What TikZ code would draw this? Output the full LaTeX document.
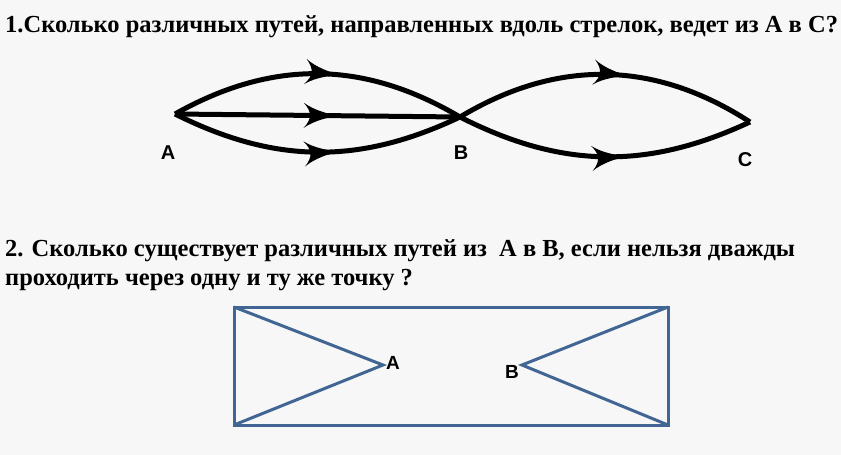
\documentclass[tikz,border=0pt]{standalone}
\usepackage{fontspec}
\setmainfont{Liberation Serif}
\newfontfamily\labelfont{Liberation Sans}
\usetikzlibrary{arrows,decorations.markings}
\definecolor{rectblue}{RGB}{66,102,148}
\tikzset{font=\bfseries}
\tikzset{arc/.style={line width=5pt, postaction={decorate},
    decoration={markings, mark=at position 0.57 with {\arrow[scale=1.9]{latex'}}}}}
\tikzset{ptlabel/.style={font=\labelfont\bfseries\fontsize{20}{20}\selectfont, inner sep=0pt}}
\tikzset{question/.style={font=\bfseries\fontsize{24.5}{28}\selectfont, inner sep=0pt, anchor=base west}}
\tikzset{edge/.style={rectblue, line width=3pt}}

\begin{document}
\begin{tikzpicture}[x=1pt,y=1pt]
  \fill[white!97!black] (0,0) rectangle (841,-455);
  \useasboundingbox (0,0) rectangle (841,-455);
  % first problem
  \node[question] (q1) at (5,-32) {1.Сколько различных путей, направленных вдоль стрелок, ведет из А в С?};
  \coordinate (A) at (175,-114);
  \coordinate (B) at (460,-117);
  \coordinate (C) at (750,-122);
  \draw[arc] (A) to[bend left=30] (B);
  \draw[arc] (A) -- (B);
  \draw[arc] (A) to[bend right=26] (B);
  \draw[arc] (B) to[bend left=32] (C);
  \draw[arc] (B) to[bend right=26] (C);
  \node[ptlabel] (labA) at (168,-153) {A};
  \node[ptlabel] (labB) at (461,-153) {B};
  \node[ptlabel] (labC) at (745,-160) {C};
  % second problem
  \node[question] (q2a) at (5,-256) {2. Сколько существует различных путей из \ А в В, если нельзя дважды};
  \node[question] (q2b) at (5,-285) {проходить через одну и ту же точку ?};
  \coordinate (tl) at (234,-307);
  \coordinate (br) at (668,-425);
  \coordinate (tr) at (668,-307);
  \coordinate (bl) at (234,-425);
  \coordinate (P) at (383,-365);
  \coordinate (Q) at (522,-365);
  \draw[edge] (tl) rectangle (br);
  \draw[edge] (tl) -- (P) -- (bl);
  \draw[edge] (tr) -- (Q) -- (br);
  \node[ptlabel, font=\labelfont\bfseries\fontsize{19}{19}\selectfont] (labP) at (393,-363) {A};
  \node[ptlabel, font=\labelfont\bfseries\fontsize{19}{19}\selectfont] (labQ) at (512,-372) {B};
\end{tikzpicture}
\end{document}
